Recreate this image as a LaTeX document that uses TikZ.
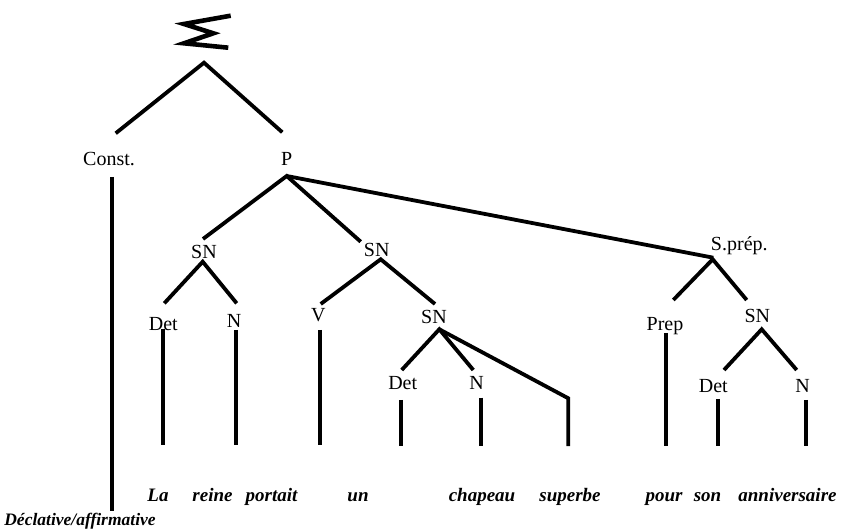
\documentclass[tikz,border=0pt]{standalone}
\usepackage{fontspec}
\setmainfont{Liberation Serif}
\begin{document}
\begin{tikzpicture}[x=1pt,y=-1pt,
  lab/.style={anchor=base,inner sep=0pt,font=\fontsize{20}{22}\selectfont},
  word/.style={anchor=base,inner sep=0pt,font=\fontsize{19}{22}\selectfont\bfseries\itshape},
  branch/.style={line width=3.8pt,line join=miter},
  stem/.style={line width=3.8pt}]
\useasboundingbox (0,0) rectangle (844,529);
% Sigma symbol
\draw[line width=4.6pt,line join=miter,miter limit=20] (230.7,15.7) -- (184,24) -- (213.3,33.3) -- (184,43.3) -- (228.3,47.7);
% labels
\node[lab] (const) at (109,165.5) {Const.};
\node[lab] (P) at (286.7,165.5) {P};
\node[lab] (sn1) at (204,258.5) {SN};
\node[lab] (det1) at (163.3,330.5) {Det};
\node[lab] (n1) at (234,327.5) {N};
\node[lab] (sn2) at (376.7,256.5) {SN};
\node[lab] (v) at (318.3,321.5) {V};
\node[lab] (sn3) at (434,324) {SN};
\node[lab] (det2) at (402.7,390) {Det};
\node[lab] (n2) at (476.7,390) {N};
\node[lab] (sprep) at (739.3,250.5) {S.prép.};
\node[lab] (prep) at (665,331) {Prep};
\node[lab] (sn4) at (757.3,322.5) {SN};
\node[lab] (det3) at (713.3,392) {Det};
\node[lab] (n3) at (802.7,392) {N};
% words
\node[word] (w1) at (158,501) {La};
\node[word] (w2) at (212.5,501) {reine};
\node[word] (w3) at (271.5,501) {portait};
\node[word] (w4) at (358,501) {un};
\node[word] (w5) at (482,501) {chapeau};
\node[word] (w6) at (570,501) {superbe};
\node[word] (w7) at (664,501) {pour};
\node[word] (w8) at (707.5,501) {son};
\node[word] (w9) at (787.5,501) {anniversaire};
\node[word,font=\fontsize{17.5}{20}\selectfont\bfseries\itshape] (decl) at (80,525) {Déclative/affirmative};
% branch points
\coordinate (top) at (204,62.7);
\coordinate (top-l) at (115.7,133.3);
\coordinate (top-r) at (282.3,132.3);
\coordinate (P-b) at (286.7,176);
\coordinate (P-l) at (203,239);
\coordinate (P-m) at (360.7,241.7);
\coordinate (P-r) at (713.3,257.7);
\coordinate (sn1-b) at (202.7,261.7);
\coordinate (sn1-l) at (164.3,303.3);
\coordinate (sn1-r) at (236.7,303.3);
\coordinate (sn2-b) at (380.7,259.3);
\coordinate (sn2-l) at (320.7,304);
\coordinate (sn2-r) at (435,304);
\coordinate (sn3-b) at (439.3,329.3);
\coordinate (sn3-l) at (401.7,370);
\coordinate (sn3-m) at (473.3,370);
\coordinate (sn3-r) at (568.3,398.3);
\coordinate (sn3-rb) at (568.3,446);
\coordinate (sp-b) at (712.7,259.3);
\coordinate (sp-l) at (673.3,300);
\coordinate (sp-r) at (746.7,300);
\coordinate (sn4-b) at (761.7,329.3);
\coordinate (sn4-l) at (724,370);
\coordinate (sn4-r) at (796.7,370);
% branches
\draw[branch] (top-l) -- (top) -- (top-r);
\draw[branch] (P-l) -- (P-b) -- (P-m);
\draw[branch] (P-b) -- (P-r);
\draw[branch] (sn1-l) -- (sn1-b) -- (sn1-r);
\draw[branch] (sn2-l) -- (sn2-b) -- (sn2-r);
\draw[branch] (sn3-l) -- (sn3-b) -- (sn3-m);
\draw[branch] (sn3-b) -- (sn3-r) -- (sn3-rb);
\draw[branch] (sp-l) -- (sp-b) -- (sp-r);
\draw[branch] (sn4-l) -- (sn4-b) -- (sn4-r);
% stems
\draw[stem] (111.7,177) coordinate (c-t) -- (111.7,511) coordinate (c-b);
\draw[stem] (163.3,329) coordinate (d1-t) -- (163.3,445) coordinate (d1-b);
\draw[stem] (236.3,330) coordinate (n1-t) -- (236.3,445) coordinate (n1-b);
\draw[stem] (320,330) coordinate (v-t) -- (320,445) coordinate (v-b);
\draw[stem] (400.7,400) coordinate (d2-t) -- (400.7,446) coordinate (d2-b);
\draw[stem] (480.7,397.7) coordinate (n2-t) -- (480.7,446) coordinate (n2-b);
\draw[stem] (666,333) coordinate (pr-t) -- (666,446) coordinate (pr-b);
\draw[stem] (717.7,399) coordinate (d3-t) -- (717.7,446) coordinate (d3-b);
\draw[stem] (805.7,400) coordinate (n3-t) -- (805.7,446) coordinate (n3-b);
\end{tikzpicture}
\end{document}
